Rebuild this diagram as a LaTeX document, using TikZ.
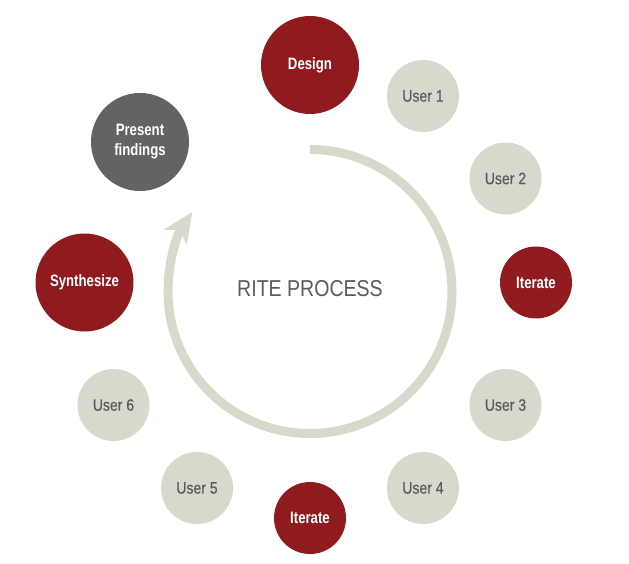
\documentclass[tikz,border=0pt]{standalone}
\usepackage{fontspec}
\setmainfont{Liberation Sans}[FakeStretch=0.85]
\newfontfamily\userfont{Liberation Sans}[FakeStretch=0.85,FakeBold=0.4]
\newfontfamily\whitefont{Liberation Sans Bold}[FakeStretch=0.8]
\usetikzlibrary{arrows.meta}
\definecolor{rite}{HTML}{8F1B1E}
\definecolor{darkc}{HTML}{636363}
\definecolor{beige}{HTML}{D8D8CD}
\definecolor{txtgray}{HTML}{5A5A5A}
\begin{document}
\begin{tikzpicture}[x=1pt,y=1pt,
  bigc/.style={circle, minimum size=98pt, inner sep=0pt, text=white, align=center,
    font=\whitefont\fontsize{16.5}{20}\selectfont},
  bigred/.style={bigc, fill=rite},
  bigdark/.style={bigc, fill=darkc},
  smallc/.style={circle, minimum size=72pt, inner sep=0pt, fill=beige, text=txtgray,
    font=\userfont\fontsize{16.5}{20}\selectfont},
  smallred/.style={smallc, fill=rite, text=white, font=\whitefont\fontsize{16.5}{20}\selectfont},
  ring/.style={line width=9pt, draw=beige, -{Stealth[length=30pt,width=27pt,inset=8pt]}}
]
\useasboundingbox (0,0) rectangle (629,563);
\coordinate (c) at (310,271.5);
\draw[ring] (c) ++(0,142) arc[start angle=90, end angle=-214, radius=142];
\node[text=txtgray, font=\fontsize{23}{26}\selectfont] (title) at (310,274) {RITE PROCESS};
\node[bigred] (design) at (310,498) {Design};
\node[smallc] (u1) at (423,467) {User 1};
\node[smallc] (u2) at (505.5,384.5) {User 2};
\node[smallred] (it1) at (536,280.5) {Iterate};
\node[smallc] (u3) at (505.5,158) {User 3};
\node[smallc] (u4) at (423,75) {User 4};
\node[smallred] (it2) at (310,45) {Iterate};
\node[smallc] (u5) at (197,75) {User 5};
\node[smallc] (u6) at (113.5,158) {User 6};
\node[bigred] (synth) at (84.5,280.5) {Synthesize};
\node[bigdark] (present) at (140,421) {Present\\findings};
\end{tikzpicture}
\end{document}
